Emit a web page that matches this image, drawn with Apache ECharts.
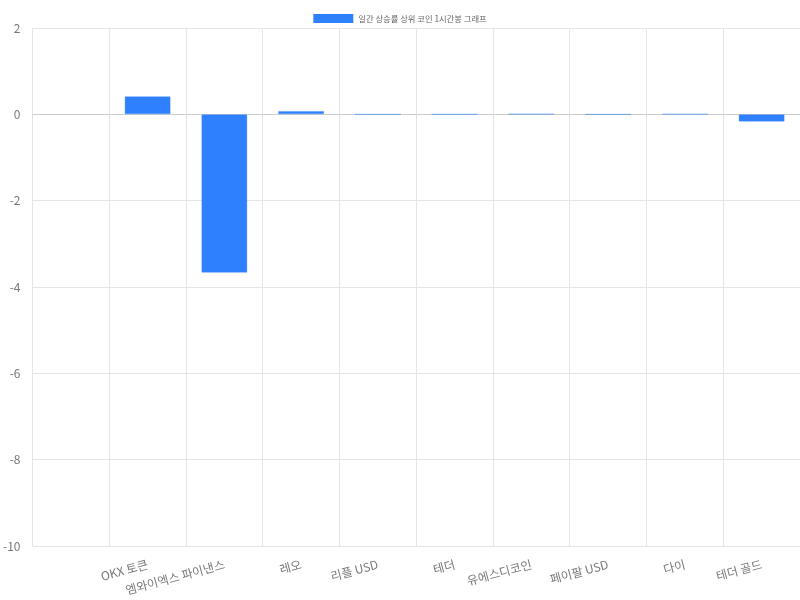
<!DOCTYPE html>
<html><head><meta charset="utf-8">
<script src="https://cdn.jsdelivr.net/npm/echarts@6/dist/echarts.min.js"></script>
<style>html,body{margin:0;padding:0;background:#fff}#c{width:800px;height:600px}</style>
</head><body><div id="c"></div>
<script>
const categories = ['', 'OKX 토큰', '엠와이엑스 파이낸스', '레오', '리플 USD', '테더', '유에스디코인', '페이팔 USD', '다이', '테더 골드'];
const values = [null, 0.42, -3.67, 0.08, -0.001, 0.001, 0.01, -0.002, 0.004, -0.17];
const seriesName = '일간 상승률 상위 코인 1시간봉 그래프';
const yMin = -10, yMax = 2, yStep = 2;

const chart = echarts.init(document.getElementById('c'));
chart.setOption({
  animation: false,
  textStyle: { fontFamily: 'Noto Sans CJK KR' },
  legend: {
    top: 9, left: 'center', itemWidth: 40, itemHeight: 9, itemGap: 10,
    icon: 'rect',
    textStyle: { fontSize: 8.3, color: '#666', padding: [0, 0, 0, 0] },
    data: [{ name: seriesName, itemStyle: { color: '#2F80FF', borderWidth: 0 } }]
  },
  grid: { left: 32, right: 0, top: 28, bottom: 54, containLabel: false },
  xAxis: {
    type: 'category', data: categories,
    axisLine: { lineStyle: { color: '#ccc' } },
    axisTick: { show: true, alignWithLabel: false, length: 8, lineStyle: { color: '#e0e0e0' } },
    splitLine: { show: true, lineStyle: { color: '#e5e5e5' } },
    axisLabel: { rotate: 15, color: '#777', fontSize: 12, interval: 0, margin: 18 }
  },
  yAxis: {
    type: 'value', min: yMin, max: yMax, interval: yStep,
    axisLine: { show: false }, axisTick: { show: false },
    splitLine: { lineStyle: { color: '#e5e5e5' } },
    axisLabel: { color: '#777', fontSize: 12, margin: 12 }
  },
  series: [{
    name: seriesName, type: 'bar', data: values, barWidth: '60%',
    itemStyle: { color: '#2F80FF', borderColor: 'rgba(47,128,255,0.35)', borderWidth: 1 }
  }]
});
</script></body></html>
